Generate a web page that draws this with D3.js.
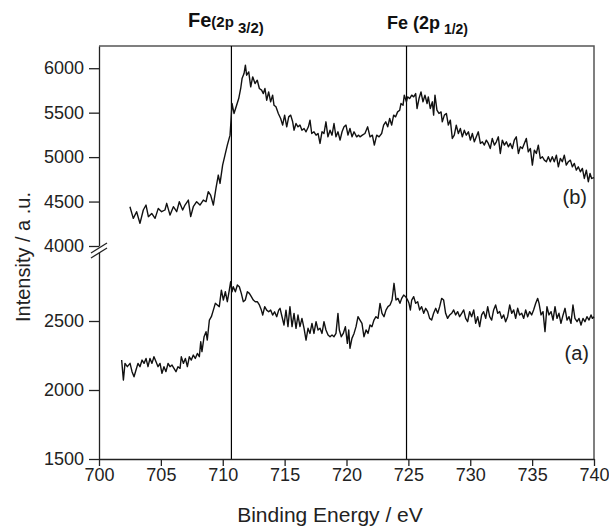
<!DOCTYPE html>
<html>
<head>
<meta charset="utf-8">
<script src="https://cdn.jsdelivr.net/npm/d3@7"></script>
<style>
  body { margin: 0; background: #fff; }
  text { font-family: "Liberation Sans", Arial, Helvetica, sans-serif; }
</style>
</head>
<body>
<script>
// ticks
const xTicks = [700, 705, 710, 715, 720, 725, 730, 735, 740]
const lowTicks = [1500, 2000, 2500]
const highTicks = [4000, 4500, 5000, 5500, 6000]

// peak positions (eV)
const peaks = [710.7, 724.85]

// spectrum (b) : [binding energy, intensity]
const specB = [
  [702.50,4442],[702.77,4311],[703.04,4386],[703.31,4255],[703.58,4405],[703.80,4461],[703.99,4330],
  [704.26,4367],[704.53,4311],[704.79,4423],[705.06,4386],[705.33,4405],[705.47,4480],[705.74,4348],
  [706.01,4442],[706.28,4386],[706.49,4498],[706.76,4405],[706.95,4461],[707.22,4517],[707.41,4330],
  [707.62,4442],[707.89,4498],[708.16,4461],[708.43,4517],[708.65,4498],[708.83,4611],[709.02,4573],
  [709.24,4461],[709.45,4648],[709.64,4798],[709.78,4704],[709.99,4910],[710.18,5022],[710.37,5135],
  [710.59,5247],[710.67,5416],[710.75,5603],[710.91,5491],[711.12,5584],[711.29,5659],[711.45,5772],
  [711.56,5884],[711.72,5940],[711.83,6034],[711.93,5921],[712.10,5959],[712.26,5790],[712.42,5903],
  [712.61,5828],[712.79,5865],[712.96,5772],[713.14,5753],[713.28,5715],[713.41,5772],[713.55,5640],
  [713.71,5734],[713.87,5622],[714.03,5697],[714.14,5584],[714.30,5566],[714.49,5491],[714.68,5434],
  [714.84,5360],[715.00,5472],[715.17,5341],[715.33,5453],[715.49,5472],[715.65,5397],[715.76,5303],
  [715.92,5378],[716.08,5341],[716.24,5360],[716.40,5303],[716.57,5322],[716.73,5285],[716.92,5341],
  [717.05,5416],[717.19,5266],[717.37,5285],[717.54,5247],[717.70,5266],[717.86,5154],[718.02,5285],
  [718.18,5266],[718.34,5397],[718.50,5228],[718.67,5303],[718.83,5247],[718.99,5378],[719.15,5228],
  [719.31,5285],[719.48,5191],[719.64,5285],[719.80,5341],[719.96,5360],[720.12,5247],[720.28,5322],
  [720.45,5228],[720.61,5285],[720.82,5228],[720.98,5247],[721.09,5228],[721.28,5247],[721.49,5266],
  [721.71,5341],[721.90,5228],[722.09,5247],[722.25,5135],[722.44,5247],[722.63,5228],[722.84,5266],
  [723.00,5360],[723.17,5397],[723.33,5341],[723.49,5434],[723.65,5360],[723.81,5472],[723.97,5453],
  [724.13,5509],[724.30,5528],[724.40,5603],[724.57,5584],[724.67,5697],[724.84,5622],[724.94,5678],
  [725.10,5659],[725.27,5697],[725.43,5678],[725.59,5715],[725.70,5547],[725.86,5659],[726.02,5734],
  [726.18,5622],[726.34,5697],[726.51,5603],[726.61,5678],[726.77,5547],[726.94,5622],[727.04,5472],
  [727.15,5697],[727.31,5528],[727.47,5491],[727.64,5509],[727.74,5397],[727.91,5472],[728.07,5491],
  [728.23,5360],[728.39,5416],[728.55,5210],[728.71,5247],[728.87,5360],[729.04,5266],[729.20,5322],
  [729.36,5228],[729.52,5303],[729.68,5247],[729.85,5285],[730.01,5191],[730.17,5266],[730.33,5172],
  [730.49,5228],[730.65,5285],[730.82,5154],[730.98,5172],[731.14,5135],[731.30,5191],[731.46,5154],
  [731.62,5097],[731.78,5210],[731.95,5135],[732.11,5172],[732.27,5228],[732.43,5041],[732.59,5191],
  [732.76,5135],[732.92,5172],[733.08,5116],[733.24,5154],[733.40,5097],[733.56,5191],[733.72,5228],
  [733.89,5041],[734.05,5116],[734.21,5097],[734.37,5154],[734.53,5210],[734.69,5060],[734.86,5097],
  [735.02,4910],[735.18,5079],[735.34,5041],[735.50,5135],[735.66,4985],[735.83,5004],[735.99,4966],
  [736.15,4948],[736.31,5004],[736.47,4948],[736.63,5004],[736.79,4948],[736.96,5022],[737.12,4891],
  [737.28,4985],[737.44,4948],[737.60,5022],[737.76,4910],[737.93,4948],[738.09,4966],[738.25,4891],
  [738.41,4929],[738.57,4854],[738.73,4891],[738.90,4835],[739.06,4873],[739.22,4760],[739.38,4854],
  [739.54,4723],[739.68,4817],[739.81,4760],[740.00,4770]
]

// spectrum (a)
const specA = [
  [701.83,2217],[701.97,2072],[702.10,2193],[702.29,2169],[702.51,2193],[702.67,2133],[702.83,2096],
  [702.99,2145],[703.15,2193],[703.31,2169],[703.48,2217],[703.64,2193],[703.80,2229],[703.96,2169],
  [704.12,2229],[704.28,2193],[704.44,2241],[704.61,2205],[704.77,2169],[704.93,2193],[705.09,2121],
  [705.25,2169],[705.41,2133],[705.58,2193],[705.74,2169],[705.90,2181],[706.06,2157],[706.22,2133],
  [706.38,2169],[706.55,2157],[706.65,2241],[706.82,2193],[706.98,2229],[707.14,2169],[707.30,2241],
  [707.46,2217],[707.62,2253],[707.78,2229],[707.95,2265],[708.11,2241],[708.22,2350],[708.32,2278],
  [708.49,2386],[708.65,2422],[708.75,2362],[708.92,2507],[709.08,2531],[709.24,2579],[709.40,2628],
  [709.56,2616],[709.72,2604],[709.89,2724],[710.05,2652],[710.21,2712],[710.37,2640],[710.53,2724],
  [710.64,2785],[710.75,2712],[710.85,2748],[711.02,2712],[711.18,2761],[711.34,2748],[711.50,2700],
  [711.66,2640],[711.82,2652],[711.99,2712],[712.15,2700],[712.31,2676],[712.47,2652],[712.63,2640],
  [712.79,2640],[712.96,2616],[713.12,2579],[713.23,2543],[713.39,2604],[713.55,2579],[713.71,2567],
  [713.87,2579],[714.03,2543],[714.19,2567],[714.36,2531],[714.52,2579],[714.63,2592],[714.79,2531],
  [714.95,2471],[715.11,2579],[715.27,2459],[715.43,2604],[715.60,2459],[715.76,2555],[715.92,2447],
  [716.08,2543],[716.24,2459],[716.40,2519],[716.57,2447],[716.73,2362],[716.89,2447],[717.05,2410],
  [717.21,2483],[717.37,2410],[717.54,2495],[717.70,2435],[717.86,2447],[718.02,2410],[718.18,2495],
  [718.34,2435],[718.51,2398],[718.67,2386],[718.83,2398],[718.99,2386],[719.15,2410],[719.31,2555],
  [719.42,2435],[719.58,2386],[719.74,2410],[719.91,2459],[720.07,2338],[720.18,2435],[720.28,2302],
  [720.44,2374],[720.61,2410],[720.77,2459],[720.93,2531],[721.09,2507],[721.25,2483],[721.41,2386],
  [721.58,2435],[721.74,2410],[721.90,2471],[722.06,2459],[722.22,2507],[722.38,2531],[722.55,2519],
  [722.71,2628],[722.87,2555],[723.03,2531],[723.19,2579],[723.35,2604],[723.52,2616],[723.68,2652],
  [723.84,2773],[724.00,2652],[724.16,2664],[724.32,2628],[724.46,2664],[724.62,2688],[724.78,2676],
  [724.94,2652],[725.05,2628],[725.16,2580],[725.27,2652],[725.43,2676],[725.59,2628],[725.75,2640],
  [725.91,2580],[726.07,2604],[726.24,2556],[726.40,2592],[726.56,2568],[726.72,2519],[726.88,2507],
  [727.04,2556],[727.21,2592],[727.37,2556],[727.53,2604],[727.69,2664],[727.85,2652],[728.01,2556],
  [728.17,2519],[728.34,2544],[728.50,2556],[728.66,2580],[728.82,2544],[728.98,2568],[729.14,2531],
  [729.31,2556],[729.47,2580],[729.63,2519],[729.79,2495],[729.95,2568],[730.11,2531],[730.28,2580],
  [730.44,2483],[730.60,2531],[730.76,2459],[730.92,2544],[731.08,2568],[731.25,2519],[731.41,2604],
  [731.57,2531],[731.73,2507],[731.89,2580],[732.05,2616],[732.22,2556],[732.38,2568],[732.54,2519],
  [732.70,2544],[732.86,2495],[733.02,2531],[733.19,2616],[733.35,2556],[733.51,2580],[733.67,2519],
  [733.83,2592],[733.99,2544],[734.16,2556],[734.32,2519],[734.48,2580],[734.64,2531],[734.80,2568],
  [734.96,2544],[735.12,2580],[735.29,2628],[735.45,2664],[735.56,2628],[735.72,2544],[735.88,2568],
  [736.04,2423],[736.20,2604],[736.36,2544],[736.53,2568],[736.69,2507],[736.85,2604],[737.01,2519],
  [737.17,2556],[737.33,2483],[737.50,2544],[737.66,2592],[737.82,2507],[737.98,2531],[738.14,2483],
  [738.30,2616],[738.46,2519],[738.63,2495],[738.79,2519],[738.95,2471],[739.11,2519],[739.27,2495],
  [739.43,2531],[739.60,2507],[739.76,2544],[739.87,2519],[740.00,2530]
]

const width = 609, height = 530
const mLeft = 99, mRight = 594, mTop = 46, mBottom = 459
const font = '"Liberation Sans", Arial, Helvetica, sans-serif'

let svg = d3.select("body").append("svg")
  .attr("width", width)
  .attr("height", height)

// echelles : axe y coupe en deux morceaux
let x = d3.scaleLinear().domain([700, 740]).range([mLeft, mRight])
let yLow = d3.scaleLinear().domain([1500, 3000]).range([mBottom, 252])
let yHigh = d3.scaleLinear().domain([4000, 6250]).range([246, mTop])

// cadre haut / droite
svg.append("path")
  .attr("d", `M${mLeft},${mTop}H${mRight}V${mBottom}`)
  .attr("fill", "none")
  .attr("stroke", "#555")
  .attr("stroke-width", 1.5)

// lignes des pics
svg.selectAll(".peak")
  .data(peaks)
  .enter()
  .append("line")
  .attr("x1", d => x(d)).attr("x2", d => x(d))
  .attr("y1", mTop).attr("y2", mBottom)
  .attr("stroke", "#000")
  .attr("stroke-width", 1.2)

// courbes
let lineB = d3.line().x(d => x(d[0])).y(d => yHigh(d[1]))
let lineA = d3.line().x(d => x(d[0])).y(d => yLow(d[1]))

svg.append("path").datum(specB)
  .attr("d", lineB)
  .attr("fill", "none").attr("stroke", "#111").attr("stroke-width", 1.4)
  .attr("stroke-linejoin", "round")
svg.append("path").datum(specA)
  .attr("d", lineA)
  .attr("fill", "none").attr("stroke", "#111").attr("stroke-width", 1.4)
  .attr("stroke-linejoin", "round")

// axes
function styleAxis(g) {
  g.attr("font-family", font).attr("font-size", 18)
  g.selectAll("path,line").attr("stroke", "#222").attr("stroke-width", 1.3)
  g.selectAll("text").attr("fill", "#222")
}
let fmt = d3.format("d")

svg.append("g")
  .attr("transform", `translate(0,${mBottom})`)
  .call(d3.axisBottom(x).tickValues(xTicks).tickFormat(fmt).tickSize(7).tickSizeOuter(0).tickPadding(2))
  .call(styleAxis)

svg.append("g")
  .attr("transform", `translate(${mLeft},0)`)
  .call(d3.axisLeft(yLow).tickValues(lowTicks).tickFormat(fmt).tickSize(10).tickSizeOuter(0).tickPadding(5))
  .call(styleAxis)

svg.append("g")
  .attr("transform", `translate(${mLeft},0)`)
  .call(d3.axisLeft(yHigh).tickValues(highTicks).tickFormat(fmt).tickSize(10).tickSizeOuter(0).tickPadding(5))
  .call(styleAxis)

// marque de coupure //
svg.selectAll(".brk")
  .data([0, 5])
  .enter()
  .append("line")
  .attr("x1", mLeft - 8).attr("x2", mLeft + 8)
  .attr("y1", d => 253 + d).attr("y2", d => 243 + d)
  .attr("stroke", "#222").attr("stroke-width", 1.3)

// titres des axes
svg.append("text")
  .attr("x", 330).attr("y", 522)
  .attr("text-anchor", "middle")
  .attr("font-size", 21).attr("fill", "#222")
  .text("Binding Energy / eV")

svg.append("text")
  .attr("transform", "translate(30,257) rotate(-90)")
  .attr("text-anchor", "middle")
  .attr("font-size", 20).attr("fill", "#222")
  .text("Intensity / a .u.")

// etiquettes des spectres
svg.append("text").attr("x", 587).attr("y", 204)
  .attr("text-anchor", "end").attr("font-size", 20).attr("fill", "#222").text("(b)")
svg.append("text").attr("x", 589).attr("y", 360)
  .attr("text-anchor", "end").attr("font-size", 20).attr("fill", "#222").text("(a)")

// etiquettes des pics
let t1 = svg.append("text").attr("x", 188).attr("y", 27)
  .attr("font-weight", "bold").attr("fill", "#111")
t1.append("tspan").attr("font-size", 20).text("Fe")
t1.append("tspan").attr("font-size", 15).text("(2p")
t1.append("tspan").attr("font-size", 15).attr("dy", 6).text(" 3/2)")

let t2 = svg.append("text").attr("x", 387).attr("y", 29)
  .attr("font-weight", "bold").attr("fill", "#111")
t2.append("tspan").attr("font-size", 18).text("Fe ")
t2.append("tspan").attr("font-size", 18).text("(2p")
t2.append("tspan").attr("font-size", 14).attr("dy", 5).text(" 1/2)")
</script>
</body>
</html>
